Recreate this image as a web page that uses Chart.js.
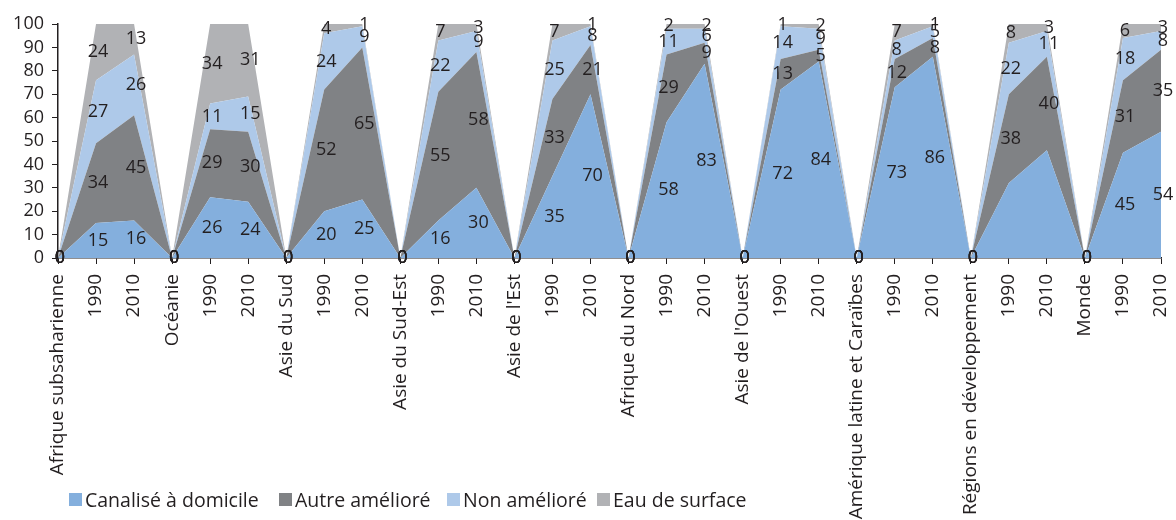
<!DOCTYPE html>
<html lang="fr">
<head>
<meta charset="utf-8">
<script src="https://cdn.jsdelivr.net/npm/chart.js@4"></script>
<style>
  html, body { margin: 0; padding: 0; background: #fff; overflow: hidden; }
  #wrap { position: relative; width: 1176px; height: 520px; }
  #legend {
    position: absolute; left: 0; top: 486px; width: 1176px; height: 26px;
    font: 19.5px "Open Sans", sans-serif; color: #231f20;
  }
  #legend span { position: absolute; top: 0; height: 26px; display: flex; align-items: center; white-space: nowrap; }
  #legend i { display: inline-block; width: 13px; height: 13px; margin-right: 3px; }
</style>
</head>
<body>
<div id="wrap">
  <canvas id="chart"></canvas>
  <div id="legend"></div>
</div>
<script>
// regions, each followed by its 1990 / 2010 columns
const categories = [
  "Afrique subsaharienne", "1990", "2010",
  "Océanie", "1990", "2010",
  "Asie du Sud", "1990", "2010",
  "Asie du Sud-Est", "1990", "2010",
  "Asie de l'Est", "1990", "2010",
  "Afrique du Nord", "1990", "2010",
  "Asie de l'Ouest", "1990", "2010",
  "Amérique latine et Caraïbes", "1990", "2010",
  "Régions en développement", "1990", "2010",
  "Monde", "1990", "2010",
];

const canalise = [0, 15, 16, 0, 26, 24, 0, 20, 25, 0, 16, 30, 0, 35, 70, 0, 58, 83, 0, 72, 84, 0, 73, 86, 0, 32, 46, 0, 45, 54];
const autreAmeliore = [0, 34, 45, 0, 29, 30, 0, 52, 65, 0, 55, 58, 0, 33, 21, 0, 29, 9, 0, 13, 5, 0, 12, 8, 0, 38, 40, 0, 31, 35];
const nonAmeliore = [0, 27, 26, 0, 11, 15, 0, 24, 9, 0, 22, 9, 0, 25, 8, 0, 11, 6, 0, 14, 9, 0, 8, 5, 0, 22, 11, 0, 18, 8];
const eauSurface = [0, 24, 13, 0, 34, 31, 0, 4, 1, 0, 7, 3, 0, 7, 1, 0, 2, 2, 0, 1, 2, 0, 7, 1, 0, 8, 3, 0, 6, 3];

const yTicks = [0, 10, 20, 30, 40, 50, 60, 70, 80, 90, 100];

const ink = "#231f20";
const font = "'Open Sans', sans-serif";

const series = [
  { label: "Canalisé à domicile", data: canalise, color: "#84afdd", skipLabels: [25, 26] },
  { label: "Autre amélioré", data: autreAmeliore, color: "#808285" },
  { label: "Non amélioré", data: nonAmeliore, color: "#aec9e9" },
  { label: "Eau de surface", data: eauSurface, color: "#b1b2b5" },
];
const legendLeft = [69, 279, 447, 597];

// value labels centred in each band of the stack
const bandLabels = {
  id: "bandLabels",
  afterDatasetsDraw(chart) {
    const { ctx, scales: { y } } = chart;
    ctx.save();
    ctx.font = "18px " + font;
    ctx.fillStyle = ink;
    ctx.textAlign = "center";
    ctx.textBaseline = "middle";
    chart.data.datasets.forEach((ds, i) => {
      const meta = chart.getDatasetMeta(i);
      ds.data.forEach((v, j) => {
        if (ds.skipLabels && ds.skipLabels.includes(j)) return;
        let base = 0;
        for (let k = 0; k < i; k++) base += chart.data.datasets[k].data[j];
        const py = y.getPixelForValue(base + v / 2);
        ctx.fillText(String(v), meta.data[j].x + 2, py);
      });
    });
    ctx.restore();
  }
};

new Chart(document.getElementById("chart"), {
  type: "line",
  data: {
    labels: categories,
    datasets: series.map((s, i) => ({
      label: s.label,
      data: s.data,
      backgroundColor: s.color,
      borderColor: s.color,
      borderWidth: 0,
      pointRadius: 0,
      tension: 0,
      fill: i === 0 ? "origin" : "-1",
      skipLabels: s.skipLabels,
    })),
  },
  options: {
    responsive: true,
    maintainAspectRatio: false,
    animation: false,
    layout: { padding: { top: 24, right: 15, bottom: 0, left: 0 } },
    plugins: { legend: { display: false }, tooltip: { enabled: false } },
    scales: {
      x: {
        offset: false,
        grid: { drawOnChartArea: false, drawTicks: true, tickLength: 6, color: ink },
        border: { color: ink, width: 1.5 },
        ticks: {
          autoSkip: false, maxRotation: 90, minRotation: 90,
          color: ink, font: { family: font, size: 19 }, padding: 10,
        },
        afterFit(scale) {
          scale.height = 262;
          scale.paddingLeft = 0;
          scale.paddingRight = 0;
        },
      },
      y: {
        stacked: true,
        min: 0,
        max: 100,
        afterBuildTicks(scale) { scale.ticks = yTicks.map(v => ({ value: v })); },
        grid: { drawOnChartArea: false, drawTicks: true, tickLength: 6, color: ink },
        border: { color: ink, width: 1.5 },
        ticks: { autoSkip: false, color: ink, font: { family: font, size: 18 }, padding: 8 },
        afterFit(scale) { scale.width = 58; },
      },
    },
  },
  plugins: [bandLabels],
});

// legend sits on top of the rotated axis labels
const legend = document.getElementById("legend");
series.forEach((s, i) => {
  const item = document.createElement("span");
  item.style.left = legendLeft[i] + "px";
  item.innerHTML = `<i style="background:${s.color}"></i>${s.label}`;
  legend.appendChild(item);
});
</script>
</body>
</html>
